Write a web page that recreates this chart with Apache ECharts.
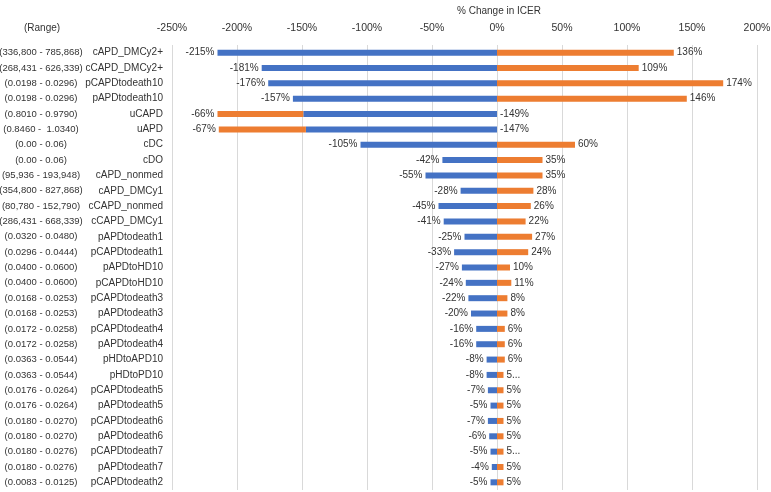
<!DOCTYPE html>
<html>
<head>
<meta charset="utf-8">
<script src="https://cdn.jsdelivr.net/npm/echarts@6/dist/echarts.min.js"></script>
<style>
  html, body { margin: 0; padding: 0; background: #fff; }
  #main { width: 771px; height: 492px; }
</style>
</head>
<body>
<div id="main"></div>
<script>
const categories = [
  'cAPD_DMCy2+', 'cCAPD_DMCy2+', 'pCAPDtodeath10', 'pAPDtodeath10', 'uCAPD', 'uAPD',
  'cDC', 'cDO', 'cAPD_nonmed', 'cAPD_DMCy1', 'cCAPD_nonmed', 'cCAPD_DMCy1',
  'pAPDtodeath1', 'pCAPDtodeath1', 'pAPDtoHD10', 'pCAPDtoHD10', 'pCAPDtodeath3',
  'pAPDtodeath3', 'pCAPDtodeath4', 'pAPDtodeath4', 'pHDtoAPD10', 'pHDtoPD10',
  'pCAPDtodeath5', 'pAPDtodeath5', 'pCAPDtodeath6', 'pAPDtodeath6', 'pCAPDtodeath7',
  'pAPDtodeath7', 'pCAPDtodeath2'
];
const ranges = [
  '(336,800 - 785,868)', '(268,431 - 626,339)', '(0.0198 - 0.0296)', '(0.0198 - 0.0296)',
  '(0.8010 - 0.9790)', '(0.8460 -  1.0340)', '(0.00 - 0.06)', '(0.00 - 0.06)',
  '(95,936 - 193,948)', '(354,800 - 827,868)', '(80,780 - 152,790)', '(286,431 - 668,339)',
  '(0.0320 - 0.0480)', '(0.0296 - 0.0444)', '(0.0400 - 0.0600)', '(0.0400 - 0.0600)',
  '(0.0168 - 0.0253)', '(0.0168 - 0.0253)', '(0.0172 - 0.0258)', '(0.0172 - 0.0258)',
  '(0.0363 - 0.0544)', '(0.0363 - 0.0544)', '(0.0176 - 0.0264)', '(0.0176 - 0.0264)',
  '(0.0180 - 0.0270)', '(0.0180 - 0.0270)', '(0.0180 - 0.0276)', '(0.0180 - 0.0276)',
  '(0.0083 - 0.0125)'
];
// % change in ICER at the low / high end of each range
const lowValues = [
  -215, -181, -176, -157, -149, -147, -105, -42, -55, -28, -45, -41, -25, -33, -27,
  -24, -22, -20, -16, -16, -8, -8, -7, -5, -7, -6, -5, -4, -5
];
const highValues = [
  136, 109, 174, 146, -66, -67, 60, 35, 35, 28, 26, 22, 27, 24, 10,
  11, 8, 8, 6, 6, 6, 5, 5, 5, 5, 5, 5, 5, 5
];
// labels cut short in the original
const truncatedLabels = ['pHDtoPD10', 'pCAPDtodeath7'];

const FONT = "'Liberation Sans', Arial, sans-serif";
const TEXT = '#333333';

const chart = echarts.init(document.getElementById('main'));

const lowData = lowValues.map(function (v, i) {
  const item = { value: v };
  if (highValues[i] < 0) item.label = { position: 'right' };
  return item;
});
const highData = highValues.map(function (v, i) {
  return { value: v, label: { position: v < 0 ? 'left' : 'right' } };
});

chart.setOption({
  animation: false,
  textStyle: { fontFamily: FONT },
  title: {
    text: '% Change in ICER',
    left: 494,
    top: 1,
    textAlign: 'center',
    textStyle: { fontFamily: FONT, fontSize: 10, fontWeight: 'normal', color: TEXT }
  },
  graphic: [{
    type: 'text',
    left: 24,
    top: 23,
    style: { text: '(Range)', fontFamily: FONT, fontSize: 10, fill: TEXT }
  }],
  grid: { left: 172, right: 14, top: 45, bottom: 2, containLabel: false, outerBoundsMode: 'none' },
  xAxis: {
    type: 'value',
    position: 'top',
    min: -250,
    max: 200,
    interval: 50,
    axisLine: { show: false },
    axisTick: { show: false },
    axisLabel: { formatter: '{value}%', fontSize: 10.5, color: TEXT, margin: 11, fontFamily: FONT },
    splitLine: { show: true, lineStyle: { color: '#d9d9d9', width: 1 } }
  },
  yAxis: [{
    type: 'category',
    data: categories,
    inverse: true,
    axisLine: { show: false },
    axisTick: { show: false },
    axisLabel: { fontSize: 10, color: TEXT, margin: 9, fontFamily: FONT, interval: 0 }
  }, {
    type: 'category',
    data: ranges,
    inverse: true,
    position: 'left',
    offset: 122,
    axisLine: { show: false },
    axisTick: { show: false },
    axisLabel: { fontSize: 9.5, color: TEXT, margin: 9, align: 'center', fontFamily: FONT, interval: 0 }
  }],
  series: [{
    name: 'Low',
    type: 'bar',
    stack: 'total',
    barWidth: 6,
    itemStyle: { color: '#4472c4' },
    label: {
      show: true,
      position: 'left',
      distance: 3,
      fontSize: 10,
      color: TEXT,
      fontFamily: FONT,
      formatter: function (p) { return p.value + '%'; }
    },
    data: lowData
  }, {
    name: 'High',
    type: 'bar',
    stack: 'total',
    barWidth: 6,
    itemStyle: { color: '#ed7d31' },
    label: {
      show: true,
      distance: 3,
      fontSize: 10,
      color: TEXT,
      fontFamily: FONT,
      formatter: function (p) {
        return truncatedLabels.indexOf(p.name) >= 0 ? '5...' : p.value + '%';
      }
    },
    data: highData
  }]
});
</script>
</body>
</html>
